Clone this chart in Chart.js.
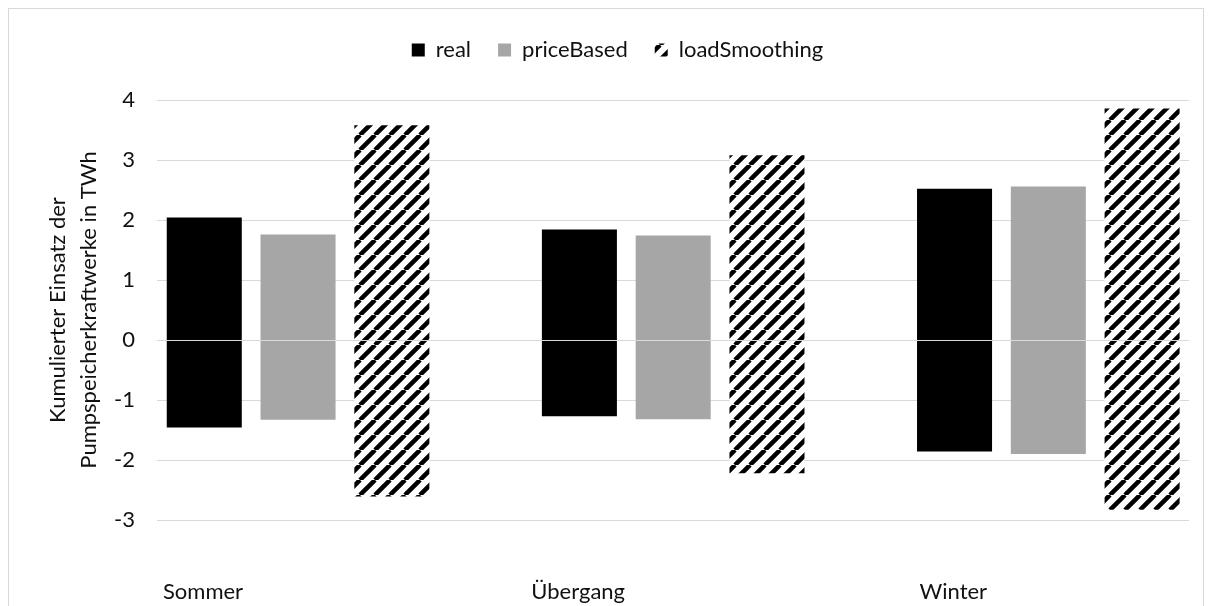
<!DOCTYPE html>
<html><head><meta charset="utf-8">
<script src="https://cdn.jsdelivr.net/npm/chart.js@4.4.1/dist/chart.umd.min.js"></script>
<style>
html,body{margin:0;padding:0;background:#fff;}
#wrap{position:relative;width:1212px;height:606px;overflow:hidden;}
#frame{position:absolute;left:8px;top:8px;width:1194px;height:660px;border:1px solid #d9d9d9;pointer-events:none;}
canvas{position:absolute;left:0;top:0;}
</style></head><body>
<div id="wrap"><canvas id="c" width="1212" height="606"></canvas><div id="frame"></div></div>
<script>
const categories = ['Sommer', 'Übergang', 'Winter'];
const realPos  = [2.04, 1.84, 2.52];
const realNeg  = [-1.46, -1.27, -1.86];
const pricePos = [1.76, 1.74, 2.56];
const priceNeg = [-1.33, -1.32, -1.90];
const loadPos  = [3.58, 3.08, 3.86];
const loadNeg  = [-2.61, -2.22, -2.83];
const yTicks   = [-3, -2, -1, 0, 1, 2, 3, 4];

const FONT = {family: 'Lato', size: 22};
const TEXT = '#111';
const LEGEND_TOP = 12;
const LEGEND_SHIFT = 23;

function hatchPattern() {
  const s = 15;
  const c = document.createElement('canvas');
  c.width = s; c.height = s;
  const g = c.getContext('2d');
  g.fillStyle = '#fff'; g.fillRect(0, 0, s, s);
  g.strokeStyle = '#000'; g.lineWidth = 4.5;
  g.beginPath();
  for (const o of [-s, 0, s]) { g.moveTo(o, s); g.lineTo(o + s, 0); }
  g.stroke();
  return g.createPattern(c, 'repeat');
}

const toBars = (lo, hi) => categories.map((_, i) => ({x: i, y: [lo[i], hi[i]]}));

const layoutTweaks = {
  id: 'layoutTweaks',
  beforeLayout(chart) {
    const l = chart.legend;
    if (l && !l._patched) {
      const fit = l.fit;
      l.fit = function () { fit.call(this); this.height = 100 - LEGEND_TOP; };
      l._patched = true;
    }
  },
  afterLayout(chart) {
    const l = chart.legend;
    if (l) { l.left += LEGEND_SHIFT; l.right += LEGEND_SHIFT; }
  },
  afterDatasetsDraw(chart) {
    const {ctx, chartArea: a, scales: {y}} = chart;
    const py = Math.round(y.getPixelForValue(0)) + 0.5;
    ctx.save();
    ctx.strokeStyle = '#d9d9d9';
    ctx.lineWidth = 1;
    ctx.beginPath();
    ctx.moveTo(a.left, py);
    ctx.lineTo(a.right, py);
    ctx.stroke();
    ctx.restore();
  }
};

const ctx = document.getElementById('c').getContext('2d');
new Chart(ctx, {
  type: 'bar',
  data: {
    datasets: [
      {label: 'real', data: toBars(realNeg, realPos), backgroundColor: '#000000'},
      {label: 'priceBased', data: toBars(priceNeg, pricePos), backgroundColor: '#a6a6a6'},
      {label: 'loadSmoothing', data: toBars(loadNeg, loadPos), backgroundColor: hatchPattern()}
    ]
  },
  options: {
    responsive: false,
    animation: false,
    devicePixelRatio: 1,
    layout: {padding: {left: 0, right: 23, top: LEGEND_TOP, bottom: 0}},
    datasets: {bar: {categoryPercentage: 0.75, barPercentage: 0.8, borderWidth: 0}},
    plugins: {
      legend: {
        position: 'top',
        labels: {boxWidth: 13, boxHeight: 13, padding: 27, color: TEXT, font: FONT}
      },
      tooltip: {enabled: false}
    },
    scales: {
      x: {
        type: 'linear', min: -0.376, max: 2.375, offset: false,
        grid: {display: false}, border: {display: false},
        afterBuildTicks: s => { s.ticks = categories.map((_, i) => ({value: i})); },
        afterFit: s => { s.height = 86; },
        ticks: {
          callback: v => categories[v],
          labelOffset: -95, padding: 51, color: TEXT, font: FONT,
          maxRotation: 0, autoSkip: false
        }
      },
      y: {
        min: -3, max: 4,
        afterBuildTicks: s => { s.ticks = yTicks.map(v => ({value: v})); },
        afterFit: s => { s.width = 157; },
        grid: {color: '#d9d9d9', drawTicks: false, lineWidth: 1},
        border: {display: false},
        ticks: {padding: 22, color: TEXT, font: FONT},
        title: {
          display: true,
          text: ['Kumulierter Einsatz der', 'Pumpspeicherkraftwerke in TWh'],
          color: TEXT,
          font: {family: 'Lato', size: 22, lineHeight: '31px'},
          padding: {top: 42, bottom: 0}
        }
      }
    }
  },
  plugins: [layoutTweaks]
});
</script>
</body></html>
